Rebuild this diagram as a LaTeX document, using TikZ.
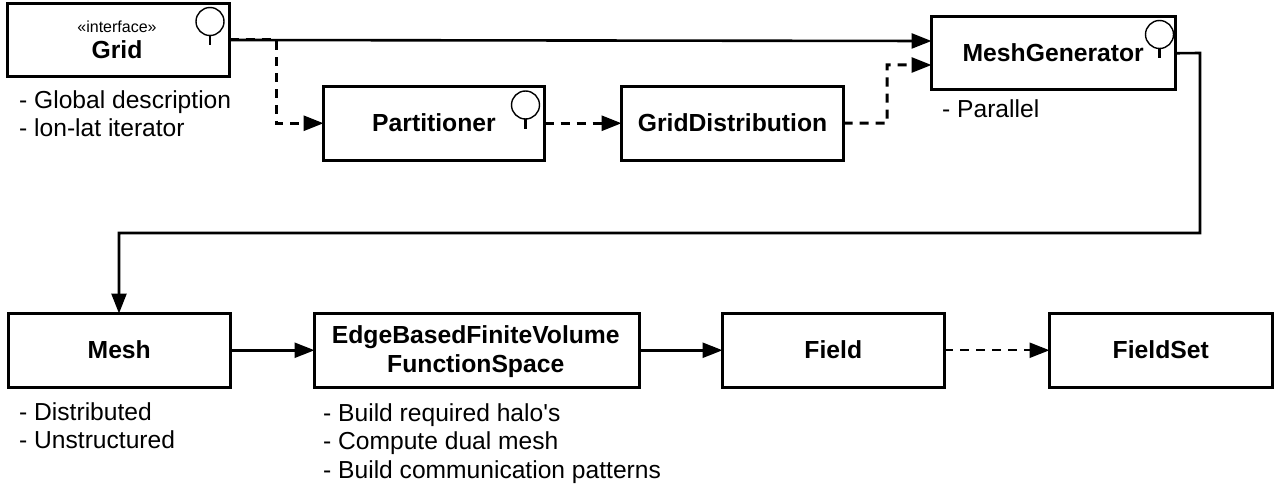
\documentclass[tikz,border=0pt]{standalone}
\usepackage{fontspec}
\setmainfont{Liberation Sans}
\newfontfamily\plainf{Liberation Sans}
\usetikzlibrary{arrows.meta}
\tikzset{
  x=1pt,y=-1pt,
  box/.style={draw=black,line width=3pt,fill=white,inner sep=0pt,outer sep=0pt,anchor=north west,align=center,font=\fontsize{24.7}{29}\selectfont\bfseries},
  note/.style={anchor=north west,inner sep=0pt,align=left,font=\plainf\fontsize{24.6}{28.5}\selectfont},
  conn/.style={line width=2.6pt,-{Triangle[length=20pt,width=15pt]},line join=miter},
  dconn/.style={conn,line width=3pt,dash pattern=on 9pt off 7pt},
  lolli/.style={draw=black,line width=1.4pt,circle,minimum size=28pt,inner sep=0pt,outer sep=0pt,fill=white},
  stem/.style={line width=2.4pt}
}
\newcommand{\bx}[6]{\node[box,minimum width=#4pt-#2pt,minimum height=#5pt-#3pt] (#1) at (#2,#3) {#6};}
\newcommand{\lbl}[1]{\raisebox{-8.6pt}[0pt][0pt]{#1}}
\begin{document}
\begin{tikzpicture}
\useasboundingbox (0,0) rectangle (1276,492);
\bx{grid}{7.5}{3.5}{229.5}{76.5}{\hspace*{-3pt}{\fontsize{16}{16}\selectfont\mdseries «interface»}\\[-3pt]\hspace*{-3pt}Grid}
\bx{part}{323.5}{86.5}{544.5}{160}{\lbl{Partitioner}}
\bx{dist}{621.5}{86.5}{843.5}{160}{\lbl{GridDistribution}}
\bx{mg}{931.5}{16.5}{1175}{90}{\lbl{MeshGenerator}}
\bx{mesh}{8.5}{313.5}{230}{387}{\lbl{Mesh}}
\bx{fs}{314.5}{313.5}{639}{387}{\rule{0pt}{20pt}\hspace*{-2pt}EdgeBasedFiniteVolume\\\hspace*{-2pt}FunctionSpace}
\bx{field}{722.5}{313.5}{944}{387}{\lbl{Field}}
\bx{set}{1049.5}{313.5}{1272}{387}{\lbl{FieldSet}}
% lollipops
\node[lolli] (c1) at (210,21.5) {};
\draw[stem] (c1.south) -- ++(0,10);
\node[lolli] (c2) at (525.5,105) {};
\draw[stem] (c2.south) -- ++(0,10);
\node[lolli] (c3) at (1159.5,34.5) {};
\draw[stem] (c3.south) -- ++(0,10);
% notes
\node[note] (n1) at (19,90) {- Global description\\- lon-lat iterator};
\node[note] (n2) at (942,99) {- Parallel};
\node[note] (n3) at (19,402) {- Distributed\\- Unstructured};
\node[note] (n4) at (323,403) {- Build required halo's\\- Compute dual mesh\\- Build communication patterns};
% connectors
\coordinate (t1) at (931.5,41);
\coordinate (t2) at (931.5,65);
\coordinate (b1) at (276,40);
\coordinate (b2) at (887,123);
\coordinate (b3) at (1200,53);
\coordinate (b4) at (119,233);
\draw[conn] (grid.east) -- (t1);
\draw[dconn] (grid.east) -- (b1) |- (part.west);
\draw[dconn] (part.east) -- (dist.west);
\draw[dconn] (dist.east) -- (b2) |- (t2);
\draw[conn] (mg.east) -- (b3) |- (b4) -- (mesh.north -| b4);
\draw[conn] (mesh.east) -- (fs.west);
\draw[conn] (fs.east) -- (field.west);
\draw[dconn,line width=2.4pt] (field.east) -- (set.west);
\end{tikzpicture}
\end{document}
